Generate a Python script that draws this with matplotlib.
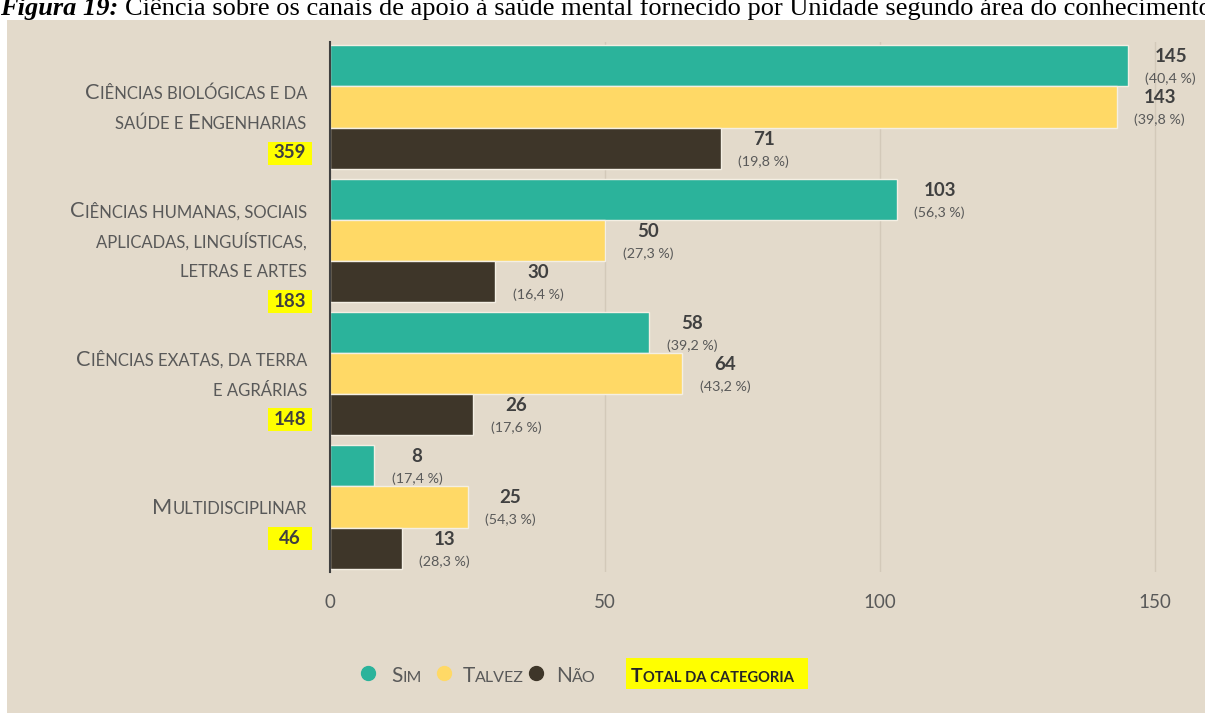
import matplotlib
matplotlib.use('Agg')
import matplotlib.pyplot as plt
from matplotlib.patches import Rectangle
from matplotlib.lines import Line2D
from matplotlib.font_manager import FontProperties
from matplotlib.transforms import IdentityTransform

# data
categories = ['Ciências biológicas e da\nsaúde e Engenharias',
              'Ciências humanas, sociais\naplicadas, linguísticas,\nletras e artes',
              'Ciências exatas, da terra\ne agrárias',
              'Multidisciplinar']
totals = [359, 183, 148, 46]
series = ['Sim', 'Talvez', 'Não']
sim = [145, 103, 58, 8]
talvez = [143, 50, 64, 25]
nao = [71, 30, 26, 13]
xticks = [0, 50, 100, 150]
colors = ['#2BB39B', '#FFD966', '#3E3629']

W, H = 1205, 713
FONT = 'Lato'
BG = '#E3DACB'
plt.rcParams['font.family'] = FONT

fig = plt.figure(figsize=(W / 100, H / 100), dpi=100, facecolor='white')
fig.add_artist(Rectangle((7, 0), W, H - 20, transform=IdentityTransform(),
                         facecolor=BG, edgecolor='none', zorder=0))
r = fig.canvas.get_renderer()


def text_w(s, fp):
    a = r.get_text_width_height_descent('x' + s + 'x', fp, ismath=False)[0]
    b = r.get_text_width_height_descent('xx', fp, ismath=False)[0]
    return a - b


def smallcaps(x, y, s, big, small, ha='left', weight='normal', color='#595959'):
    # x, y: pixels from top-left, y is the baseline
    runs = []
    for ch in s:
        sz = big if ch.isupper() else small
        c = ch.upper()
        if runs and runs[-1][1] == sz:
            runs[-1][0] += c
        else:
            runs.append([c, sz])
    widths = [text_w(t, FontProperties(family=FONT, size=sz, weight=weight)) for t, sz in runs]
    total = sum(widths)
    x0 = {'left': x, 'right': x - total, 'center': x - total / 2}[ha]
    for (t, sz), w in zip(runs, widths):
        fig.text(x0, H - y, t, transform=IdentityTransform(), fontsize=sz,
                 weight=weight, color=color, ha='left', va='baseline', family=FONT)
        x0 += w
    return total


# title (cut at the top, like the page it came from)
fp_b = FontProperties(family='Liberation Serif', size=19, weight='bold', style='italic')
t1 = 'Figura 19:'
fig.text(0, H - 15, t1, transform=IdentityTransform(), fontproperties=fp_b, va='baseline')
fig.text(text_w(t1 + ' ', fp_b), H - 15,
         'Ciência sobre os canais de apoio à saúde mental fornecido por Unidade segundo área do conhecimento',
         transform=IdentityTransform(), family='Liberation Serif', fontsize=19, va='baseline')

ax = fig.add_axes([330 / W, (H - 572) / H, 863.5 / W, 530 / H])
ax.set_facecolor('none')
h = 0.308
for j, (name, vals, c) in enumerate(zip(series, [sim, talvez, nao], colors)):
    ys = [i + (j - 1) * h for i in range(len(categories))]
    ax.barh(ys, vals, height=h, color=c, edgecolor='#F4EFE4', linewidth=1, zorder=3, label=name)
    for y, v, t in zip(ys, vals, totals):
        ax.annotate(str(v), xy=(v, y), xytext=(31, 6.5), textcoords='offset points',
                    ha='center', va='center', fontsize=13.5, weight='bold', color='#404040')
        pct = f'({v / t * 100:.1f} %)'.replace('.', ',')
        ax.annotate(pct, xy=(v, y), xytext=(31, -9.5), textcoords='offset points',
                    ha='center', va='center', fontsize=10.3, color='#595959')

ax.set_xlim(0, 157)
ax.set_ylim(3.4875, -0.4875)
ax.set_xticks(xticks)
ax.set_yticks([])
ax.xaxis.grid(True, color='#D3C9B9', linewidth=1)
ax.set_axisbelow(True)
for s in ['top', 'right', 'bottom']:
    ax.spines[s].set_visible(False)
ax.spines['left'].set_color('#3F3F3F')
ax.spines['left'].set_linewidth(1.5)
ax.spines['left'].set_zorder(5)
ax.tick_params(axis='x', length=0, pad=16, labelsize=13.5, labelcolor='#595959')

# category labels with totals
for i, (cat, tot) in enumerate(zip(categories, totals)):
    gc = H - ax.transData.transform((0, i))[1]
    lines = cat.split('\n')
    n = len(lines)
    for k, line in enumerate(lines):
        yc = gc + (k - (n - 1) / 2) * 30
        smallcaps(307, yc + 7, line, 15.7, 12, ha='right')
    yb = gc + ((n - 1) / 2 + 1) * 30 + 1
    fig.add_artist(Rectangle((268, H - yb - 11.5), 44, 23, transform=IdentityTransform(),
                             facecolor='#FFFF00', edgecolor='none'))
    fig.text(290, H - yb, str(tot), transform=IdentityTransform(), ha='center', va='center',
             fontsize=13.5, weight='bold', color='#404040')

# legend
for xm, c, xt, name in zip([368, 444, 536], colors, [391, 463, 556], series):
    fig.add_artist(Line2D([xm], [H - 673], marker='o', markersize=10, color=c,
                          linestyle='none', transform=IdentityTransform()))
    smallcaps(xt, 682, name, 15, 11.5)
fig.add_artist(Rectangle((626, H - 689), 182, 31, transform=IdentityTransform(),
                         facecolor='#FFFF00', edgecolor='none'))
smallcaps(631, 682, 'Total da categoria', 14, 10.6, weight='bold', color='#262626')

fig.savefig('out.png', dpi=100, facecolor='white')
